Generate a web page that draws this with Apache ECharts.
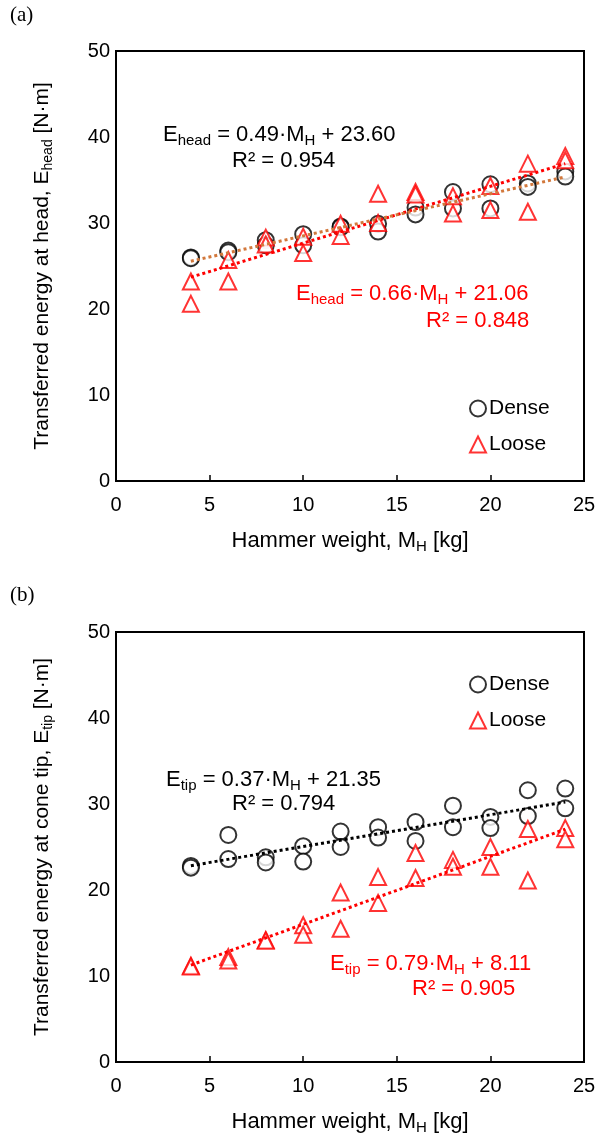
<!DOCTYPE html>
<html>
<head>
<meta charset="utf-8">
<script src="https://cdn.jsdelivr.net/npm/echarts@6/dist/echarts.min.js"></script>
<style>
html,body{margin:0;padding:0;background:#fff;}
#c{width:606px;height:1138px;}
</style>
</head>
<body>
<div id="c"></div>
<script>
// ---- data ----
const massKg = [4, 6, 8, 10, 12, 14, 16, 18, 20, 22, 24];
const headDense1 = [26.0, 26.8, 28.0, 28.7, 29.6, 29.9, 31.8, 33.6, 34.5, 34.6, 36.0];
const headDense2 = [25.9, 26.6, 27.4, 27.4, 29.5, 29.0, 31.0, 31.7, 31.7, 34.2, 35.4];
const headLoose1 = [23.2, 25.7, 28.3, 28.4, 29.9, 33.4, 33.6, 33.1, 34.3, 36.9, 37.8];
const headLoose2 = [20.6, 23.2, 27.5, 26.5, 28.5, 30.0, 33.3, 31.1, 31.5, 31.3, 37.3];
const tipDense1 = [22.8, 26.4, 23.8, 25.1, 26.8, 27.3, 27.9, 29.8, 28.5, 31.6, 31.8];
const tipDense2 = [22.6, 23.6, 23.2, 23.3, 25.0, 26.1, 25.7, 27.3, 27.2, 28.6, 29.5];
const tipLoose1 = [11.2, 12.2, 14.2, 15.9, 19.7, 21.5, 24.3, 23.5, 25.0, 27.1, 27.2];
const tipLoose2 = [11.1, 11.8, 14.1, 14.8, 15.5, 18.5, 21.4, 22.7, 22.7, 21.1, 25.9];
// trendline coefficients [slope, intercept] as printed on the chart
const headDenseFit = [0.49, 23.60];
const headLooseFit = [0.66, 21.06];
const tipDenseFit = [0.37, 21.35];
const tipLooseFit = [0.79, 8.11];
const fitRange = [4, 24];
const xTicks = [0, 5, 10, 15, 20, 25];
const yTicks = [0, 10, 20, 30, 40, 50];

// ---- build ----
function pairs(a, b) {
  const out = [];
  massKg.forEach((m, i) => { out.push([m, a[i]]); out.push([m, b[i]]); });
  return out;
}
function fitLine(c) { return fitRange.map(x => [x, c[0] * x + c[1]]); }

const FONT = 'Liberation Sans, Arial, sans-serif';
const RED = '#FF0000';
const ORANGE = '#D2783C';

function xAxis(gi) {
  return {
    gridIndex: gi, type: 'value', min: xTicks[0], max: xTicks[xTicks.length - 1], interval: 5,
    axisLine: { show: true, onZero: false, lineStyle: { color: '#000', width: 2 } },
    axisTick: { show: true, inside: true, length: 6, lineStyle: { color: '#000', width: 1.5 } },
    splitLine: { show: false },
    axisLabel: { color: '#000', fontSize: 20, fontFamily: FONT, margin: 14 },
    name: '{n|Hammer weight, M}{s|H}{n| [kg]}',
    nameLocation: 'middle', nameGap: 47,
    nameTextStyle: {
      rich: {
        n: { fontSize: 22, fontFamily: FONT, color: '#000' },
        s: { fontSize: 15, fontFamily: FONT, color: '#000', padding: [11, 0, 0, 0] }
      }
    }
  };
}
function yAxis(gi, sub, mid) {
  return {
    gridIndex: gi, type: 'value', min: yTicks[0], max: yTicks[yTicks.length - 1], interval: 10,
    axisLine: { show: true, lineStyle: { color: '#000', width: 2 } },
    axisTick: { show: false },
    splitLine: { show: false },
    axisLabel: { color: '#000', fontSize: 20, fontFamily: FONT, margin: 6 },
    name: '{n|Transferred energy at ' + mid + ', E}{s|' + sub + '}{n| [N·m]}',
    nameLocation: 'middle', nameGap: 61,
    nameTextStyle: {
      rich: {
        n: { fontSize: 21, fontFamily: FONT, color: '#000' },
        s: { fontSize: 14, fontFamily: FONT, color: '#000', padding: [11, 0, 0, 0] }
      }
    }
  };
}
function scatter(name, gi, data, sym, color) {
  return {
    name: name, type: 'scatter', xAxisIndex: gi, yAxisIndex: gi, data: data,
    symbol: sym, symbolSize: 16,
    itemStyle: { color: color, borderColor: color, borderWidth: sym === 'emptyTriangle' ? 2 : 1.8 },
    z: 2, silent: true
  };
}
function line(gi, data, color) {
  return {
    type: 'line', xAxisIndex: gi, yAxisIndex: gi, data: data, symbol: 'none',
    lineStyle: { color: color, width: 3, type: [3, 3], cap: 'butt' }, z: 3, silent: true
  };
}
function eqText(left, top, color, size, parts) {
  const txt = parts.map(p => (p[1] ? '{s|' : '{n|') + p[0] + '}').join('');
  return {
    type: 'text', left: left, top: top, z: 10,
    style: {
      text: txt, fill: color,
      rich: {
        n: { fontSize: size, fontFamily: FONT, fill: color },
        s: { fontSize: Math.round(size * 0.68), fontFamily: FONT, fill: color, padding: [12, 0, 0, 0] }
      }
    }
  };
}

const EQ_FS = 22;
const chart = echarts.init(document.getElementById('c'), null, { renderer: 'canvas' });
chart.setOption({
  backgroundColor: '#fff',
  animation: false,
  grid: [
    { left: 116, top: 51, width: 468, height: 430, show: true, borderColor: '#000', borderWidth: 2, containLabel: false },
    { left: 116, top: 632, width: 468, height: 430, show: true, borderColor: '#000', borderWidth: 2, containLabel: false }
  ],
  xAxis: [xAxis(0), xAxis(1)],
  yAxis: [yAxis(0, 'head', 'head'), yAxis(1, 'tip', 'cone tip')],
  legend: [
    { left: 464, top: 393, orient: 'vertical', itemGap: 15, itemWidth: 16, itemHeight: 16,
      data: ['Dense', 'Loose'], textStyle: { fontSize: 21, fontFamily: FONT, color: '#000', padding: [0, 0, 0, -2] }, selectedMode: false },
    { left: 464, top: 669, orient: 'vertical', itemGap: 15, itemWidth: 16, itemHeight: 16,
      data: ['Dense', 'Loose'], textStyle: { fontSize: 21, fontFamily: FONT, color: '#000', padding: [0, 0, 0, -2] }, selectedMode: false }
  ],
  series: [
    scatter('Dense', 0, pairs(headDense1, headDense2), 'emptyCircle', '#000'),
    scatter('Loose', 0, pairs(headLoose1, headLoose2), 'emptyTriangle', RED),
    line(0, fitLine(headLooseFit), RED),
    line(0, fitLine(headDenseFit), ORANGE),
    scatter('Dense', 1, pairs(tipDense1, tipDense2), 'emptyCircle', '#000'),
    scatter('Loose', 1, pairs(tipLoose1, tipLoose2), 'emptyTriangle', RED),
    line(1, fitLine(tipDenseFit), '#000'),
    line(1, fitLine(tipLooseFit), RED)
  ],
  graphic: [
    { type: 'text', left: 10, top: 5, style: { text: '(a)', fontSize: 21, fontFamily: 'Liberation Serif, Times New Roman, serif', fill: '#000' } },
    { type: 'text', left: 10, top: 585, style: { text: '(b)', fontSize: 21, fontFamily: 'Liberation Serif, Times New Roman, serif', fill: '#000' } },
    eqText(163, 124, '#000', EQ_FS, [['E', 0], ['head', 1], [' = 0.49·M', 0], ['H', 1], [' + 23.60', 0]]),
    eqText(232, 150, '#000', EQ_FS, [['R² = 0.954', 0]]),
    eqText(296, 283, RED, EQ_FS, [['E', 0], ['head', 1], [' = 0.66·M', 0], ['H', 1], [' + 21.06', 0]]),
    eqText(426, 310, RED, EQ_FS, [['R² = 0.848', 0]]),
    eqText(166, 769, '#000', EQ_FS, [['E', 0], ['tip', 1], [' = 0.37·M', 0], ['H', 1], [' + 21.35', 0]]),
    eqText(232, 793, '#000', EQ_FS, [['R² = 0.794', 0]]),
    eqText(330, 953, RED, EQ_FS, [['E', 0], ['tip', 1], [' = 0.79·M', 0], ['H', 1], [' + 8.11', 0]]),
    eqText(412, 978, RED, EQ_FS, [['R² = 0.905', 0]])
  ]
});
</script>
</body>
</html>
